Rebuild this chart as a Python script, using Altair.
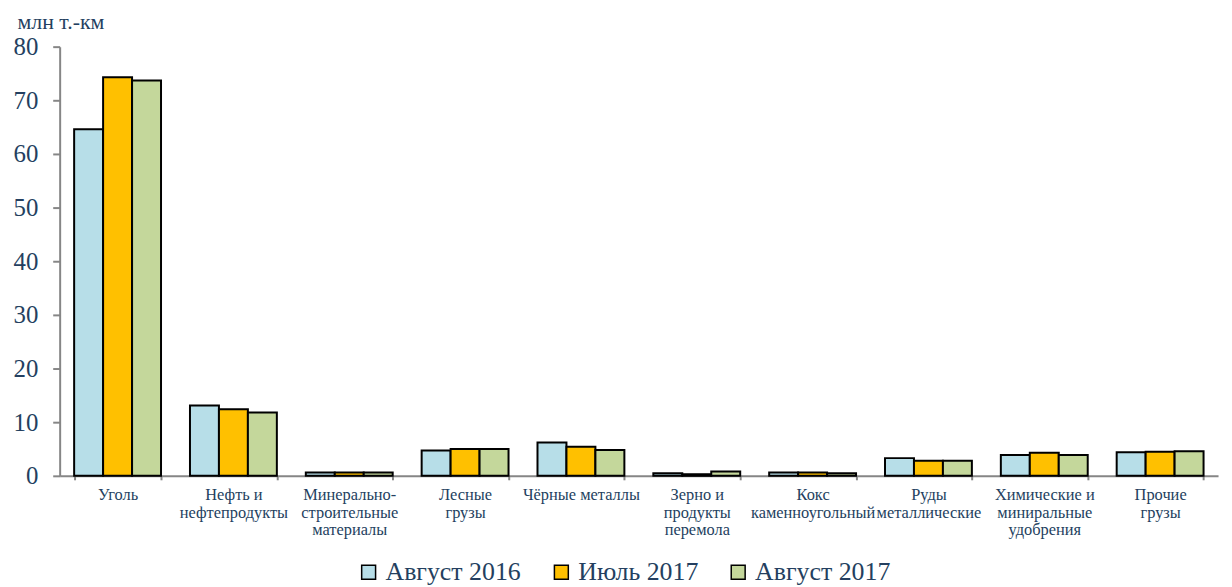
import altair as alt
import pandas as pd

categories = [
    "Уголь",
    "Нефть и\nнефтепродукты",
    "Минерально-\nстроительные\nматериалы",
    "Лесные\nгрузы",
    "Чёрные металлы",
    "Зерно и\nпродукты\nперемола",
    "Кокс\nкаменноугольный",
    "Руды\nметаллические",
    "Химические и\nминиральные\nудобрения",
    "Прочие\nгрузы",
]
series = ["Август 2016", "Июль 2017", "Август 2017"]
aug2016 = [64.6, 13.1, 0.6, 4.7, 6.2, 0.5, 0.6, 3.3, 3.9, 4.4]
jul2017 = [74.3, 12.4, 0.6, 5.0, 5.4, 0.3, 0.6, 2.8, 4.3, 4.5]
aug2017 = [73.7, 11.8, 0.6, 5.0, 4.8, 0.8, 0.5, 2.8, 3.9, 4.6]
colors = ["#B7DEE8", "#FFC000", "#C4D79B"]

rows = []
for vals, s in zip([aug2016, jul2017, aug2017], series):
    for c, v in zip(categories, vals):
        rows.append({"cat": c, "series": s, "value": v})
df = pd.DataFrame(rows)

FONT = "Liberation Serif, 'Times New Roman', 'DejaVu Serif', serif"
TXT = "#243F60"
AXC = "#868686"

chart = alt.Chart(df).mark_bar(stroke="black", strokeWidth=2).encode(
    x=alt.X(
        "cat:N",
        sort=categories,
        title=None,
        scale=alt.Scale(paddingInner=0.25, paddingOuter=0.125),
        axis=alt.Axis(
            labelAngle=0,
            labelExpr="split(datum.label, '\\n')",
            labelFont=FONT,
            labelFontSize=16.5,
            labelColor=TXT,
            labelLineHeight=17.5,
            labelPadding=7,
            labelBaseline="top",
            labelLimit=200,
            tickBand="extent",
            tickSize=4,
            tickColor=AXC,
            tickWidth=2,
            domainColor=AXC,
            domainWidth=2,
        ),
    ),
    xOffset=alt.XOffset("series:N", sort=series),
    y=alt.Y(
        "value:Q",
        scale=alt.Scale(domain=[0, 80]),
        axis=alt.Axis(
            values=[0, 10, 20, 30, 40, 50, 60, 70, 80],
            grid=False,
            labelFont=FONT,
            labelFontSize=25,
            labelColor=TXT,
            labelPadding=15,
            tickSize=7,
            tickColor=AXC,
            tickWidth=2,
            domainColor=AXC,
            domainWidth=2,
            title="млн т.-км",
            titleAngle=0,
            titleFont=FONT,
            titleFontSize=22,
            titleFontWeight="normal",
            titleColor=TXT,
            titleAlign="left",
            titleBaseline="alphabetic",
            titleX=-43,
            titleY=-18,
        ),
    ),
    color=alt.Color(
        "series:N",
        sort=series,
        scale=alt.Scale(domain=series, range=colors),
        legend=alt.Legend(
            title=None,
            orient="none",
            legendX=298,
            legendY=516,
            direction="horizontal",
            symbolType="square",
            symbolSize=196,
            symbolStrokeColor="black",
            symbolStrokeWidth=1.5,
            labelFont=FONT,
            labelFontSize=26,
            labelColor=TXT,
            columnPadding=27,
            labelOffset=4,
        ),
    ),
).properties(
    width=1166,
    height=432,
    autosize=alt.AutoSizeParams(type="none"),
    padding={"left": 52, "top": 37, "right": 6, "bottom": 110},
).configure_view(
    stroke=None
)

chart.save("out.html", embed_options={"renderer": "svg", "actions": False})
